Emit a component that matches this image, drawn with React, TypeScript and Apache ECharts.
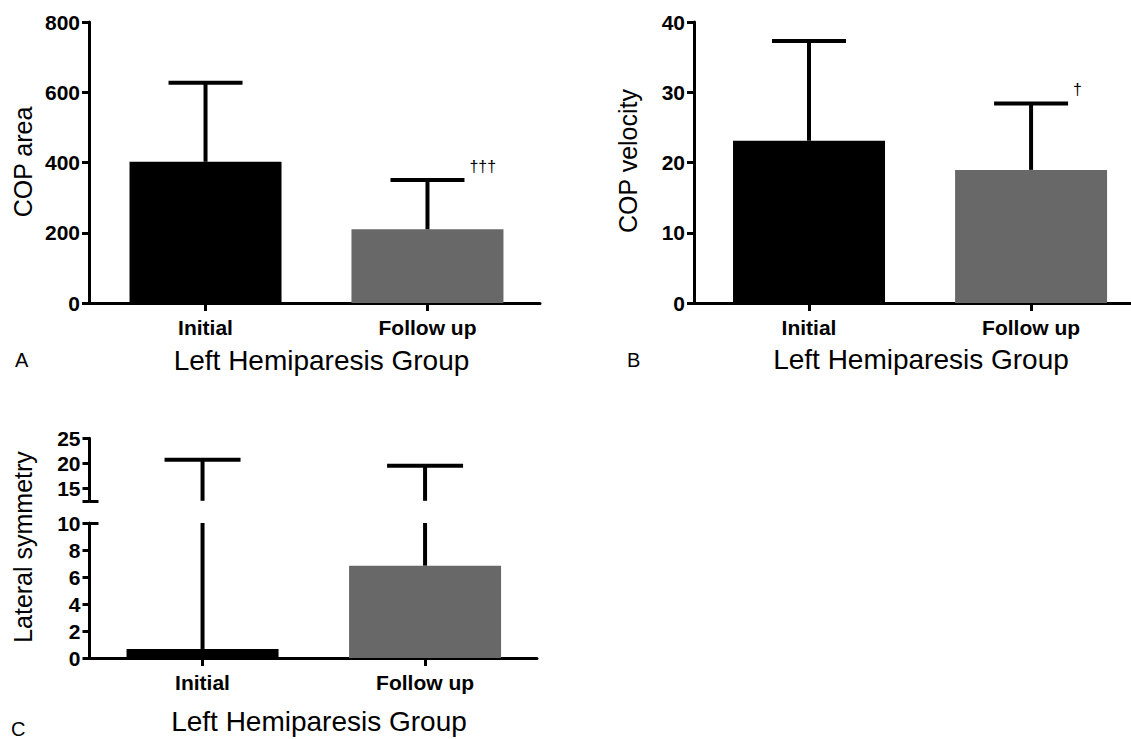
import React, { useEffect, useRef } from "react";
import * as echarts from "echarts";

// Group labels and bar fills
const groups = ["Initial", "Follow up"];
const barColors = ["#000000", "#686868"];

// Panel A: COP area (mean and mean + SD)
const copAreaMean = [402, 210];
const copAreaUpper = [627, 350];
const copAreaMarks = ["", "†††"];

// Panel B: COP velocity
const copVelocityMean = [23.1, 18.95];
const copVelocityUpper = [37.3, 28.4];
const copVelocityMarks = ["", "†"];

// Panel C: lateral symmetry (broken axis)
const symmetryMean = [0.67, 6.84];
const symmetryUpper = [20.7, 19.5];
const symmetryMarks = ["", ""];
const symmetryLowerRange = [0, 10];
const symmetryUpperRange = [12.5, 25];
const symmetryUpperTicks = [15, 20, 25];

const xTitle = "Left Hemiparesis Group";
const yTitles = ["COP area", "COP velocity", "Lateral symmetry"];
const panelLetters = ["A", "B", "C"];

const FONT = '"Liberation Sans", Arial, Helvetica, sans-serif';
const AXIS_LINE = { color: "#000", width: 3 };

const barData = (means: number[]) =>
  means.map((m, i) => ({ value: [i, m], itemStyle: { color: barColors[i] } }));

const errData = (means: number[], uppers: number[]) =>
  means.map((m, i) => [i, m, uppers[i]]);

// Draws the upper half of an error bar, clipped to [lo, hi] of the y axis.
function errorBar(lo: number, hi: number, capHalf: number, marks: string[]) {
  return (params: any, api: any) => {
    const x = api.value(0);
    const mean = api.value(1);
    const upper = api.value(2);
    const from = Math.max(mean, lo);
    const to = Math.min(upper, hi);
    if (to <= from) return { type: "group", children: [] };
    const p0 = api.coord([x, from]);
    const p1 = api.coord([x, to]);
    const children: any[] = [
      {
        type: "line",
        shape: { x1: p0[0], y1: p0[1], x2: p1[0], y2: p1[1] },
        style: { stroke: "#000", lineWidth: 4 },
      },
    ];
    if (upper <= hi) {
      children.push({
        type: "line",
        shape: { x1: p1[0] - capHalf, y1: p1[1], x2: p1[0] + capHalf, y2: p1[1] },
        style: { stroke: "#000", lineWidth: 4 },
      });
      const mark = marks[params.dataIndex];
      if (mark) {
        children.push({
          type: "text",
          x: p1[0] + capHalf + 5,
          y: p1[1] - 14,
          style: {
            text: mark,
            fill: "#000",
            fontSize: 16,
            fontFamily: FONT,
            align: "left",
            verticalAlign: "middle",
          },
        });
      }
    }
    return { type: "group", children };
  };
}

function xAxis(gridIndex: number, min: number, max: number, show = true) {
  return {
    type: "value",
    gridIndex,
    min,
    max,
    show,
    axisLine: { show: true, onZero: false, lineStyle: AXIS_LINE },
    axisTick: { show: true, length: 8, lineStyle: AXIS_LINE, customValues: [0, 1] },
    axisLabel: {
      show: true,
      customValues: [0, 1],
      formatter: (v: number) => groups[Math.round(v)] ?? "",
      margin: 14,
      color: "#000",
      fontSize: 21,
      fontWeight: "bold",
      fontFamily: FONT,
    },
    splitLine: { show: false },
  };
}

function yAxis(gridIndex: number, min: number, max: number, extra: any = {}) {
  return {
    type: "value",
    gridIndex,
    min,
    max,
    position: "left",
    offset: 0,
    axisLine: { show: true, onZero: false, lineStyle: AXIS_LINE },
    axisTick: { show: true, length: 7, lineStyle: AXIS_LINE, ...(extra.tick || {}) },
    axisLabel: {
      margin: 9,
      color: "#000",
      fontSize: 21,
      fontWeight: "bold",
      fontFamily: FONT,
      ...(extra.label || {}),
    },
    splitLine: { show: false },
    ...(extra.interval !== undefined ? { interval: extra.interval } : {}),
  };
}

// Short inward stub marking the ends of a broken axis
function breakStub(gridIndex: number, min: number, max: number, at: number) {
  return {
    type: "value",
    gridIndex,
    min,
    max,
    position: "left",
    offset: 0,
    axisLine: { show: false, onZero: false },
    axisLabel: { show: false },
    axisTick: { show: true, inside: true, length: 9, lineStyle: AXIS_LINE, customValues: [at] },
    splitLine: { show: false },
  };
}

const titleText = (text: string, x: number, y: number, size: number, rotate = false, align = "center") => ({
  type: "text",
  x,
  y,
  rotation: rotate ? Math.PI / 2 : 0,
  style: {
    text,
    fill: "#000",
    fontSize: size,
    fontFamily: FONT,
    align,
    verticalAlign: "middle",
  },
});

export default function App() {
  const ref = useRef<HTMLDivElement>(null);

  useEffect(() => {
    if (!ref.current) return;
    const chart = echarts.init(ref.current, undefined, { renderer: "svg" });

    chart.setOption({
      animation: false,
      backgroundColor: "#fff",
      grid: [
        { left: 89, top: 22, width: 451, height: 281 },
        { left: 694, top: 22, width: 437, height: 281 },
        { left: 89.5, top: 523, width: 447.5, height: 135 },
        { left: 89.5, top: 438.3, width: 447.5, height: 62.5 },
      ],
      xAxis: [
        xAxis(0, -0.525, 1.507),
        xAxis(1, -0.518, 1.45),
        xAxis(2, -0.508, 1.503),
        xAxis(3, -0.508, 1.503, false),
      ],
      yAxis: [
        yAxis(0, 0, 800, { interval: 200 }),
        yAxis(1, 0, 40, { interval: 10 }),
        yAxis(2, symmetryLowerRange[0], symmetryLowerRange[1], { interval: 2 }),
        yAxis(3, symmetryUpperRange[0], symmetryUpperRange[1], {
          tick: { customValues: [symmetryUpperRange[0], ...symmetryUpperTicks] },
          label: { customValues: symmetryUpperTicks },
        }),
        breakStub(2, symmetryLowerRange[0], symmetryLowerRange[1], symmetryLowerRange[1]),
        breakStub(3, symmetryUpperRange[0], symmetryUpperRange[1], symmetryUpperRange[0]),
      ],
      series: [
        { type: "bar", xAxisIndex: 0, yAxisIndex: 0, barWidth: 152, data: barData(copAreaMean) },
        {
          type: "custom",
          xAxisIndex: 0,
          yAxisIndex: 0,
          z: 5,
          renderItem: errorBar(0, 800, 37, copAreaMarks),
          data: errData(copAreaMean, copAreaUpper),
        },
        { type: "bar", xAxisIndex: 1, yAxisIndex: 1, barWidth: 152, data: barData(copVelocityMean) },
        {
          type: "custom",
          xAxisIndex: 1,
          yAxisIndex: 1,
          z: 5,
          renderItem: errorBar(0, 40, 37, copVelocityMarks),
          data: errData(copVelocityMean, copVelocityUpper),
        },
        { type: "bar", xAxisIndex: 2, yAxisIndex: 2, barWidth: 152, data: barData(symmetryMean) },
        {
          type: "custom",
          xAxisIndex: 2,
          yAxisIndex: 2,
          z: 5,
          renderItem: errorBar(symmetryLowerRange[0], symmetryLowerRange[1], 38, symmetryMarks),
          data: errData(symmetryMean, symmetryUpper),
        },
        {
          type: "custom",
          xAxisIndex: 3,
          yAxisIndex: 3,
          z: 5,
          renderItem: errorBar(symmetryUpperRange[0], symmetryUpperRange[1], 38, symmetryMarks),
          data: errData(symmetryMean, symmetryUpper),
        },
      ],
      graphic: [
        titleText(xTitle, 321.5, 360, 28),
        titleText(xTitle, 921, 359, 28),
        titleText(xTitle, 319, 721, 28),
        titleText(yTitles[0], 23, 162, 25, true),
        titleText(yTitles[1], 628, 161, 25, true),
        titleText(yTitles[2], 22.5, 547, 25, true),
        titleText(panelLetters[0], 15, 360, 20, false, "left"),
        titleText(panelLetters[1], 627, 360, 20, false, "left"),
        titleText(panelLetters[2], 11, 729, 20, false, "left"),
      ],
    });

    return () => chart.dispose();
  }, []);

  return (
    <div
      ref={ref}
      style={{ position: "fixed", left: 0, top: 0, width: 1131, height: 739, background: "#fff" }}
    />
  );
}
